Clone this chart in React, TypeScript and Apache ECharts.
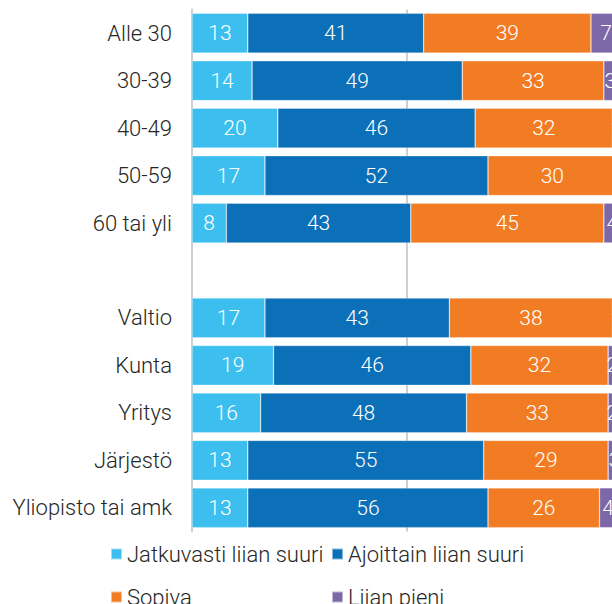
import React, { useEffect, useRef } from "react";
import * as echarts from "echarts";

const categories = [
  "Alle 30",
  "30-39",
  "40-49",
  "50-59",
  "60 tai yli",
  "",
  "Valtio",
  "Kunta",
  "Yritys",
  "Järjestö",
  "Yliopisto tai amk",
];

const seriesNames = ["Jatkuvasti liian suuri", "Ajoittain liian suuri", "Sopiva", "Liian pieni"];

const jatkuvasti = [13, 14, 20, 17, 8, null, 17, 19, 16, 13, 13];
const ajoittain = [41, 49, 46, 52, 43, null, 43, 46, 48, 55, 56];
const sopiva = [39, 33, 32, 30, 45, null, 38, 32, 33, 29, 26];
const liianPieni = [7, 3, 2, 1, 4, null, 2, 2, 2, 3, 4];

const colors = ["#3CBFEE", "#0C70B8", "#F27C23", "#7D68A7"];

const FONT = "Roboto, 'Liberation Sans', Arial, sans-serif";

export default function App() {
  const ref = useRef<HTMLDivElement>(null);

  useEffect(() => {
    if (!ref.current) return;
    const chart = echarts.init(ref.current, undefined, { renderer: "svg" });
    const values = [jatkuvasti, ajoittain, sopiva, liianPieni];
    const legendPos = [
      { left: 110, top: 543 },
      { left: 331, top: 543 },
      { left: 110, top: 586 },
      { left: 331, top: 586 },
    ];
    chart.setOption({
      animation: false,
      textStyle: { fontFamily: FONT },
      grid: { left: 192, width: 429, top: 9.5, height: 522, containLabel: false },
      xAxis: {
        type: "value",
        min: 0,
        max: 100,
        interval: 50,
        axisLabel: { show: false },
        axisLine: { show: false },
        axisTick: { show: false },
        splitLine: { show: true, lineStyle: { color: "#cfcfcf", width: 2 } },
      },
      yAxis: {
        type: "category",
        data: categories,
        inverse: true,
        axisTick: { show: false },
        axisLine: { show: true, lineStyle: { color: "#cfcfcf", width: 2 } },
        axisLabel: {
          margin: 20,
          fontSize: 22,
          fontWeight: 300,
          color: "#262626",
          fontFamily: FONT,
        },
      },
      legend: seriesNames.map((name, i) => ({
        data: [name],
        left: legendPos[i].left,
        top: legendPos[i].top,
        padding: 0,
        itemWidth: 11,
        itemHeight: 11,
        icon: "rect",
        selectedMode: false,
        textStyle: {
          fontSize: 22,
          fontWeight: 300,
          color: "#262626",
          fontFamily: FONT,
          lineHeight: 22,
        },
      })),
      series: seriesNames.map((name, i) => ({
        name,
        type: "bar",
        stack: "total",
        barCategoryGap: "16%",
        data: values[i],
        itemStyle: { color: colors[i], borderColor: "rgba(255,255,255,0.5)", borderWidth: 0.6 },
        label: {
          show: true,
          position: "inside",
          color: "#ffffff",
          fontSize: 21,
          fontWeight: 300,
          fontFamily: FONT,
          formatter: "{c}",
        },
      })),
    });
    return () => chart.dispose();
  }, []);

  return (
    <div
      style={{
        position: "fixed",
        left: 0,
        top: 0,
        width: 612,
        height: 604,
        overflow: "hidden",
        background: "#ffffff",
      }}
    >
      <div ref={ref} style={{ width: 640, height: 604 }} />
    </div>
  );
}
